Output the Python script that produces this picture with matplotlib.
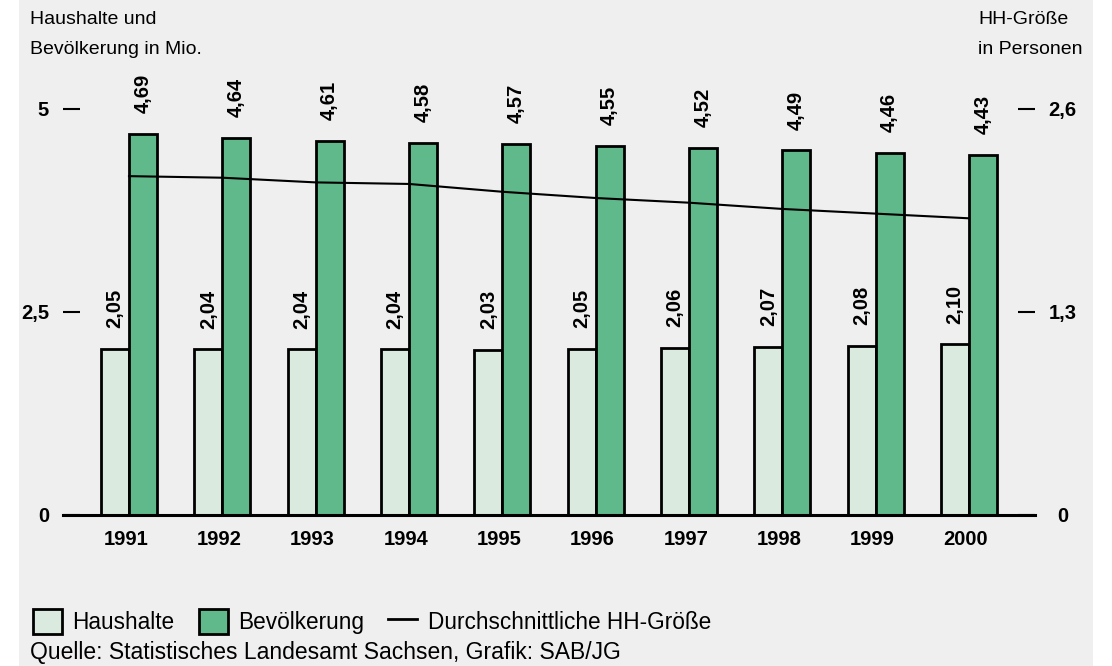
import numpy as np
import matplotlib
matplotlib.use("Agg")
import matplotlib.pyplot as plt
import matplotlib.transforms as mtransforms
from matplotlib.patches import Patch, Rectangle
from matplotlib.lines import Line2D

#-DATA-----------------------------------------------------------------------#
years = ['1991', '1992', '1993', '1994', '1995',
         '1996', '1997', '1998', '1999', '2000']
haushalte = [2.05, 2.04, 2.04, 2.04, 2.03, 2.05, 2.06, 2.07, 2.08, 2.10]
bevoelkerung = [4.69, 4.64, 4.61, 4.58, 4.57, 4.55, 4.52, 4.49, 4.46, 4.43]
hh_groesse = [2.17, 2.16, 2.13, 2.12, 2.07, 2.03, 2.00, 1.96, 1.93, 1.90]
left_ticks = [0, 2.5, 5]
left_labels = ['0', '2,5', '5']
right_ticks = [0, 1.3, 2.6]
right_labels = ['0', '1,3', '2,6']
#-END-DATA-------------------------------------------------------------------#

c_light = '#dbeadf'
c_green = '#5fb98b'
c_bg = '#efefef'
W, H = 1112, 666
fs_bold = 14.5

plt.rcParams['font.family'] = ['Liberation Sans', 'DejaVu Sans']

fig = plt.figure(figsize=(W / 100, H / 100), dpi=100)
fig.patches.append(Rectangle((19 / W, 0), (1093 - 19) / W, 1,
                             transform=fig.transFigure,
                             facecolor=c_bg, edgecolor='none', zorder=-10))

# plot area: x 63..1035 px, value 0 at y=515 px, value 5 at y=109 px
ax = fig.add_axes([63 / W, 1 - 515 / H, (1035 - 63) / W, (515 - 80) / H])
ax.patch.set_visible(False)
ytop = 5 * (515 - 80) / (515 - 109)

x = np.arange(len(years))
bw = 0.3
bars_h = ax.bar(x - bw, haushalte, bw, align='edge', color=c_light,
                edgecolor='black', linewidth=2, zorder=2)
bars_b = ax.bar(x, bevoelkerung, bw, align='edge', color=c_green,
                edgecolor='black', linewidth=2, zorder=2)

def fmt(v):
    return f'{v:.2f}'.replace('.', ',')

for bars, vals in ((bars_h, haushalte), (bars_b, bevoelkerung)):
    for b, v in zip(bars, vals):
        ax.annotate(fmt(v), (b.get_x() + b.get_width() / 2, v),
                    xytext=(0, 15), textcoords='offset points',
                    rotation=90, ha='center', va='bottom',
                    fontsize=fs_bold, fontweight='bold')

ax.set_xlim(-0.707, len(years) - 1 + 0.707)
ax.set_ylim(0, ytop)
ax.set_xticks(x)
ax.set_xticklabels(years, fontsize=fs_bold, fontweight='bold')
ax.tick_params(axis='x', length=0, pad=11)
shift = mtransforms.ScaledTranslation(-3 / 100, 0, fig.dpi_scale_trans)
for lab in ax.get_xticklabels():
    lab.set_transform(lab.get_transform() + shift)
ax.set_yticks(left_ticks)
ax.set_yticklabels(left_labels, fontsize=fs_bold, fontweight='bold')
ax.tick_params(axis='y', direction='in', length=12, width=1.5, pad=10)
for s in ('top', 'left', 'right'):
    ax.spines[s].set_visible(False)
ax.spines['bottom'].set_linewidth(2.2)
ax.spines['bottom'].set_zorder(3)

# household size on the right axis
ax2 = ax.twinx()
ax2.plot(x, hh_groesse, color='black', linewidth=1.5, zorder=4)
ax2.set_ylim(0, 2.6 * ytop / 5)
ax2.set_yticks(right_ticks)
ax2.set_yticklabels(right_labels, fontsize=fs_bold, fontweight='bold')
ax2.tick_params(axis='y', direction='in', length=12, width=1.5, pad=20)
for lab in ax2.get_yticklabels():
    lab.set_horizontalalignment('center')
for s in ax2.spines.values():
    s.set_visible(False)

# axis headings
fig.text(30 / W, 1 - 24.5 / H, 'Haushalte und', fontsize=14, va='baseline')
fig.text(30 / W, 1 - 53.5 / H, 'Bevölkerung in Mio.', fontsize=14,
         va='baseline')
fig.text(978 / W, 1 - 24.5 / H, 'HH-Größe', fontsize=14, va='baseline')
fig.text(978 / W, 1 - 53.5 / H, 'in Personen', fontsize=14, va='baseline')

# legend and source line
handles = [Patch(facecolor=c_light, edgecolor='black', linewidth=2),
           Patch(facecolor=c_green, edgecolor='black', linewidth=2),
           Line2D([], [], color='black', linewidth=2)]
fig.legend(handles, ['Haushalte', 'Bevölkerung', 'Durchschnittliche HH-Größe'],
           loc='lower left', bbox_to_anchor=(33 / W, 1 - 634 / H),
           ncol=3, frameon=False, fontsize=16.3, borderpad=0,
           borderaxespad=0, handlelength=1.3, handleheight=1.35,
           handletextpad=0.45, columnspacing=1.05)
fig.text(30 / W, 1 - 659 / H,
         'Quelle: Statistisches Landesamt Sachsen, Grafik: SAB/JG',
         fontsize=16.5, va='baseline')

fig.savefig('out.png', dpi=100)
